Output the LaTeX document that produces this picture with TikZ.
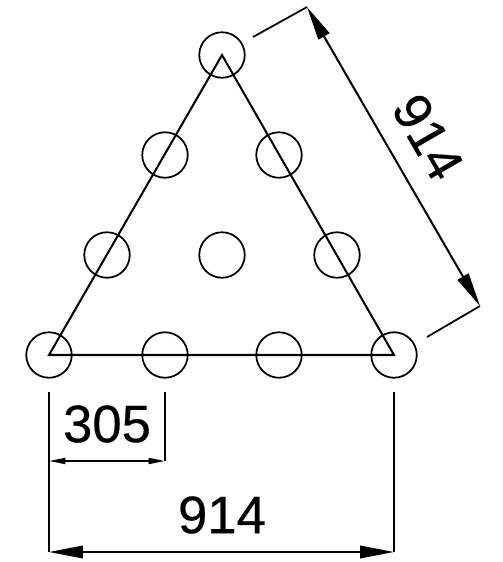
\documentclass[tikz,border=0pt]{standalone}
\usepackage{fontspec}
\setmainfont{Liberation Sans}
\newfontfamily\dimfont[FakeBold=0.4]{Liberation Sans}
\usetikzlibrary{arrows.meta}

\begin{document}
\begin{tikzpicture}[
    x=0.02cm, y=-0.02cm,
    hole/.style={circle, draw, line width=1pt, minimum size=0.91cm, inner sep=0pt},
    dimtext/.style={inner sep=0pt, font=\dimfont\fontsize{30}{30}\selectfont},
    edge/.style={line width=1.15pt},
    extline/.style={line width=1pt},
    smalldim/.style={line width=1pt, {Stealth[inset=0pt,length=0.33cm,width=0.12cm]}-{Stealth[inset=0pt,length=0.33cm,width=0.12cm]}},
    bigdim/.style={line width=1.15pt, {Stealth[inset=0pt,length=0.68cm,width=0.25cm]}-{Stealth[inset=0pt,length=0.68cm,width=0.25cm]}}
  ]
\useasboundingbox (0,0) rectangle (503,562);

% Nodes
\node[hole] (top) at (222,55) {};
\node[hole] (midleft) at (165,155) {};
\node[hole] (midright) at (279,155) {};
\node[hole] (lowleft) at (107,255) {};
\node[hole] (lowcentre) at (222,255) {};
\node[hole] (lowright) at (337,255) {};
\node[hole] (baseleft) at (49,355) {};
\node[hole] (basetwo) at (165,355) {};
\node[hole] (basethree) at (279,355) {};
\node[hole] (baseright) at (394,355) {};

\node[dimtext] (smalltext) at (107,424) {305};
\node[dimtext] (widthtext) at (222,515) {914};
\node[dimtext, rotate=-60] (sidetext) at (428,137) {914};

% Extension points
\coordinate (extA) at (49,392);
\coordinate (extB) at (165,392);
\coordinate (extC) at (394,392);
\coordinate (smallA) at (49,461);
\coordinate (smallB) at (165,461);
\coordinate (bigA) at (49,552);
\coordinate (bigB) at (394,552);
\coordinate (extD) at (253,37);
\coordinate (sideA) at (307,7);
\coordinate (extE) at (427,337);
\coordinate (sideB) at (480,306);

% Triangle
\draw[edge, line join=miter] (top.center) -- (baseright.center) -- (baseleft.center) -- cycle;

% Arrows
\draw[extline] (extA) -- (bigA);
\draw[extline] (extB) -- (smallB);
\draw[extline] (extC) -- (bigB);
\draw[extline] (extD) -- (sideA);
\draw[extline] (extE) -- (sideB);
\draw[smalldim] (smallA) -- (smallB);
\draw[bigdim] (bigA) -- (bigB);
\draw[bigdim] (sideA) -- (sideB);

\end{tikzpicture}
\end{document}
